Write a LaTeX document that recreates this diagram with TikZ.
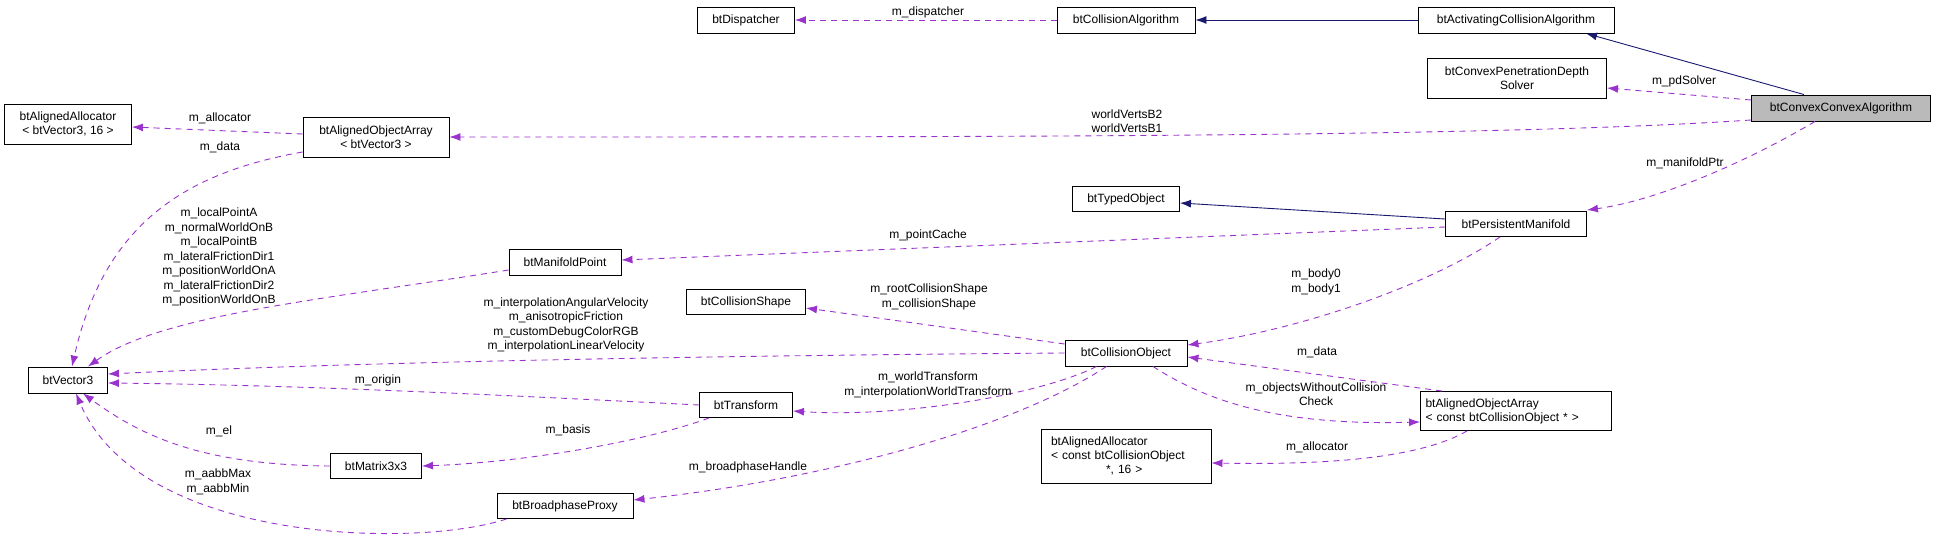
\documentclass[tikz,border=0pt]{standalone}
\usepackage{fontspec}
\setmainfont{Liberation Sans}
\usetikzlibrary{arrows.meta,calc}
\definecolor{dep}{HTML}{9A32CD}
\definecolor{inh}{HTML}{191970}
\begin{document}
\begin{tikzpicture}[x=1pt,y=-1pt,
  box/.style={draw,line width=0.9pt,inner sep=0pt,font=\fontsize{12}{14}\selectfont},
  dep/.style={draw=dep,line width=0.9pt,dash pattern=on 6pt off 5pt,-{Latex[length=11pt,width=8pt]},shorten >=0pt},
  inh/.style={draw=inh,line width=0.9pt,-{Latex[length=11pt,width=8pt]}},
  lbl/.style={font=\fontsize{12}{14.5}\selectfont,align=center,inner sep=0pt}]
\useasboundingbox (0,0) rectangle (1936,544);
% nodes
\node[box,minimum width=97pt,minimum height=26pt] (disp) at (746,20) {btDispatcher};
\node[box,minimum width=138pt,minimum height=26pt] (calg) at (1126,20) {btCollisionAlgorithm};
\node[box,minimum width=196pt,minimum height=26pt] (act) at (1516,20) {btActivatingCollisionAlgorithm};
\node[box,minimum width=179pt,minimum height=40pt,align=center] (pen) at (1517,78) {btConvexPenetrationDepth\\Solver};
\node[box,minimum width=179pt,minimum height=26pt,fill=black!27] (conv) at (1841,108) {btConvexConvexAlgorithm};
\node[box,minimum width=127pt,minimum height=40pt,align=center] (all3) at (68,124) {btAlignedAllocator\\{< btVector3, 16 >}};
\node[box,minimum width=146pt,minimum height=40pt,align=center] (aoa3) at (376,137) {btAlignedObjectArray\\{< btVector3 >}};
\node[box,minimum width=107pt,minimum height=25pt] (typed) at (1126,199) {btTypedObject};
\node[box,minimum width=141pt,minimum height=25pt] (pm) at (1516,224) {btPersistentManifold};
\node[box,minimum width=112pt,minimum height=26pt] (mp) at (565,262) {btManifoldPoint};
\node[box,minimum width=119pt,minimum height=25pt] (cs) at (746,302) {btCollisionShape};
\node[box,minimum width=122pt,minimum height=26pt] (co) at (1126,353) {btCollisionObject};
\node[box,minimum width=79pt,minimum height=26pt] (v3) at (68,380) {btVector3};
\node[box,minimum width=93pt,minimum height=25pt] (tr) at (746,405) {btTransform};
\node[box,minimum width=91pt,minimum height=25pt] (mat) at (376,466) {btMatrix3x3};
\node[box,minimum width=136pt,minimum height=25pt] (bp) at (565,506) {btBroadphaseProxy};
\node[box,minimum width=191pt,minimum height=39pt,align=left,text width=181pt] (aoac) at (1516,411) {btAlignedObjectArray\\{< const btCollisionObject * >}};
\node[box,minimum width=170pt,minimum height=54pt,align=left,text width=150pt] (allc) at (1126,456) {btAlignedAllocator\\{< const btCollisionObject}\\\hspace*{55pt}{*, 16 >}};
% inheritance
\draw[inh] (act.west) -- (calg.east);
\draw[inh] ($(conv.north)+(-37,0)$) -- ($(act.south)+(70,0)$);
\draw[inh] ($(pm.west)+(0,-5)$) -- ($(typed.east)+(0,4)$);
% dependencies
\draw[dep] (calg.west) -- (disp.east);
\node[lbl] at (928,12) {m\_dispatcher};
\draw[dep] ($(conv.west)+(0,-8)$) -- ($(pen.east)+(0,10)$);
\node[lbl] at (1684,81) {m\_pdSolver};
\draw[dep] ($(conv.west)+(0,12)$) .. controls (1500,137) and (1000,137) .. (aoa3.east);
\node[lbl] at (1127,121) {worldVertsB2\\worldVertsB1};
\draw[dep] ($(conv.south)+(-26,0)$) .. controls (1750,160) and (1660,200) .. ($(pm.north east)+(0,-1)$);
\node[lbl] at (1685,163) {m\_manifoldPtr};
\draw[dep] ($(aoa3.west)+(0,-3)$) -- ($(all3.east)+(0,3)$);
\node[lbl] at (220,118) {m\_allocator};
\draw[dep] ($(aoa3.west)+(0,15)$) .. controls (190,172) and (105,220) .. ($(v3.north)+(4,0)$);
\node[lbl] at (220,147) {m\_data};
\draw[dep] ($(pm.west)+(0,3)$) -- ($(mp.east)+(0,-2)$);
\node[lbl] at (928,235) {m\_pointCache};
\draw[dep] ($(mp.west)+(0,8)$) .. controls (320,300) and (160,315) .. ($(v3.north east)+(-20,0)$);
\node[lbl] at (219,257) {m\_localPointA\\m\_normalWorldOnB\\m\_localPointB\\m\_lateralFrictionDir1\\m\_positionWorldOnA\\m\_lateralFrictionDir2\\m\_positionWorldOnB};
\draw[dep] ($(pm.south)+(-16,0)$) .. controls (1430,285) and (1300,330) .. ($(co.east)+(0,-8)$);
\node[lbl] at (1316,282) {m\_body0\\m\_body1};
\draw[dep] ($(co.west)+(0,-9)$) -- ($(cs.east)+(0,6)$);
\node[lbl] at (929,297) {m\_rootCollisionShape\\m\_collisionShape};
\draw[dep] (co.west) .. controls (800,355) and (400,360) .. ($(v3.east)+(0,-6)$);
\node[lbl] at (566,325) {m\_interpolationAngularVelocity\\m\_anisotropicFriction\\m\_customDebugColorRGB\\m\_interpolationLinearVelocity};
\draw[dep] ($(co.south west)+(32,0)$) .. controls (1040,395) and (900,418) .. ($(tr.east)+(0,6)$);
\node[lbl] at (928,385) {m\_worldTransform\\m\_interpolationWorldTransform};
\draw[dep] ($(co.south west)+(42,0)$) .. controls (1010,430) and (820,480) .. ($(bp.east)+(0,-6)$);
\node[lbl] at (748,467) {m\_broadphaseHandle};
\draw[dep] ($(aoac.north west)+(22,0)$) -- ($(co.east)+(0,4)$);
\node[lbl] at (1317,352) {m\_data};
\draw[dep] ($(co.south)+(27,0)$) .. controls (1220,410) and (1300,425) .. ($(aoac.west)+(0,11)$);
\node[lbl] at (1316,394) {m\_objectsWithoutCollision\\Check};
\draw[dep] ($(aoac.south west)+(47,0)$) .. controls (1420,458) and (1330,465) .. ($(allc.east)+(0,7)$);
\node[lbl] at (1317,447) {m\_allocator};
\draw[dep] (tr.west) .. controls (500,395) and (300,385) .. ($(v3.east)+(0,3)$);
\node[lbl] at (378,380) {m\_origin};
\draw[dep] ($(tr.south west)+(10,0)$) .. controls (650,440) and (530,462) .. (mat.east);
\node[lbl] at (568,430) {m\_basis};
\draw[dep] (mat.west) .. controls (200,465) and (140,435) .. ($(v3.south east)+(-25,0)$);
\node[lbl] at (219,431) {m\_el};
\draw[dep] ($(bp.south west)+(10,0)$) .. controls (420,548) and (140,545) .. ($(v3.south)+(8,0)$);
\node[lbl] at (218,482) {m\_aabbMax\\m\_aabbMin};
\end{tikzpicture}
\end{document}
